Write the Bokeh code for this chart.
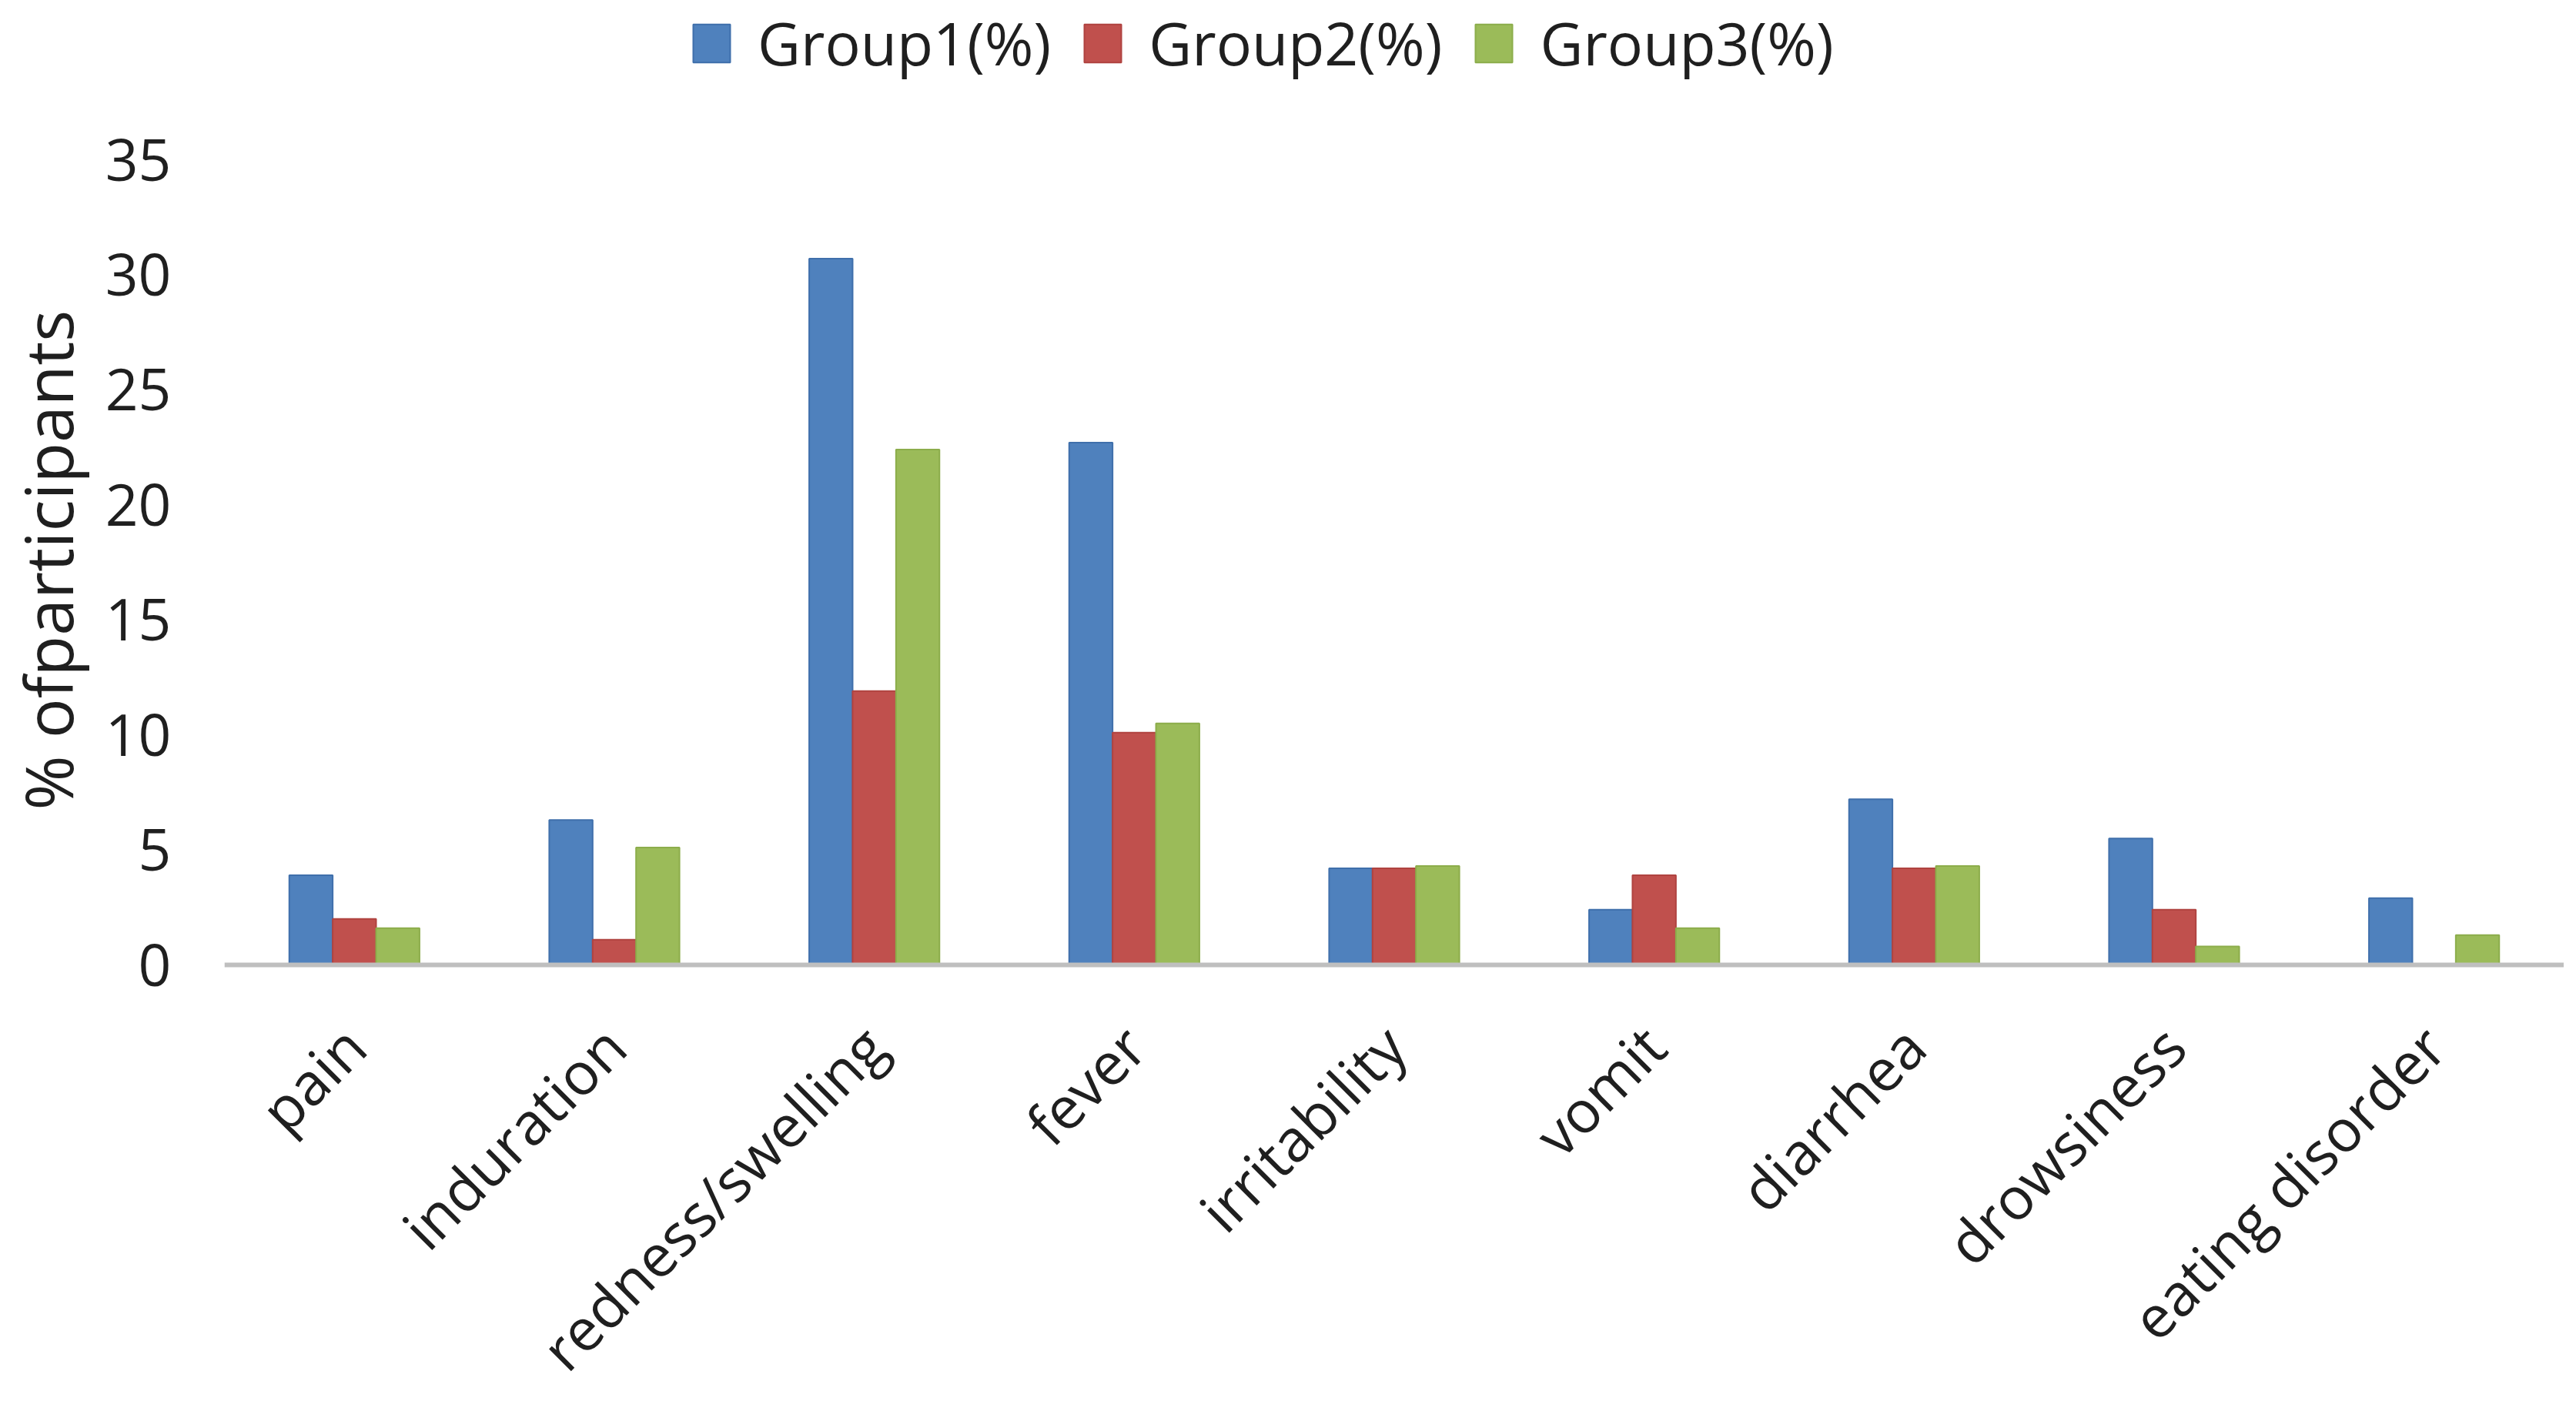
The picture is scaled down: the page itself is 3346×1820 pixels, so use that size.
from bokeh.plotting import figure
from bokeh.models import ColumnDataSource, Legend, LegendItem, FactorRange, Range1d, FixedTicker, Title
from bokeh.transform import dodge
from bokeh.embed import file_html
from bokeh.resources import INLINE
import math

categories = ["pain", "induration", "redness/swelling", "fever", "irritability",
              "vomit", "diarrhea", "drowsiness", "eating disorder"]
group1 = [3.9, 6.3, 30.7, 22.7, 4.2, 2.4, 7.2, 5.5, 2.9]
group2 = [2.0, 1.1, 11.9, 10.1, 4.2, 3.9, 4.2, 2.4, 0.0]
group3 = [1.6, 5.1, 22.4, 10.5, 4.3, 1.6, 4.3, 0.8, 1.3]
series_names = ["Group1(%)", "Group2(%)", "Group3(%)"]
y_ticks = [0, 5, 10, 15, 20, 25, 30, 35]
y_title = "% ofparticipants"

colors = ["#4F81BD", "#C0504D", "#9BBB59"]
edges = ["#3F6FAB", "#B04340", "#8CAD4B"]
FONT = "Open Sans"
TXT = "#1f1f1f"

# layout (pixels): plot height, where y=0 and y=35 sit from the top
H = 1804
Y0_PX = 1253
Y35_PX = 207
ppu = (Y0_PX - Y35_PX) / 35.0
y_lo = -(H - Y0_PX) / ppu
y_hi = 35 + Y35_PX / ppu

source = ColumnDataSource(dict(cat=categories, g1=group1, g2=group2, g3=group3))

p = figure(width=3330, height=H, x_range=FactorRange(*categories),
           y_range=Range1d(y_lo, y_hi), output_backend="svg", toolbar_location=None,
           min_border_left=291, min_border_right=0, min_border_top=0,
           min_border_bottom=0)
p.outline_line_color = None
p.xgrid.visible = False
p.ygrid.visible = False

bw = 0.167
renderers = []
for i, key in enumerate(["g1", "g2", "g3"]):
    r = p.vbar(x=dodge("cat", (i - 1) * bw, range=p.x_range), top=key, bottom=0, width=bw,
               source=source, fill_color=colors[i], line_color=edges[i], line_width=2)
    renderers.append(r)

# y axis
ya = p.yaxis[0]
ya.ticker = FixedTicker(ticks=y_ticks)
ya.axis_line_color = None
ya.major_tick_line_color = None
ya.minor_tick_line_color = None
ya.major_label_text_font = FONT
ya.major_label_text_font_size = "75px"
ya.major_label_text_color = TXT
ya.major_label_standoff = 63
# a blank, tiny axis label only widens the gap between tick labels and the title
ya.axis_label = " "
ya.axis_label_text_font_size = "1px"
ya.axis_label_standoff = 10

ytitle = Title(text=y_title, align="left", offset=H - 1052, standoff=0,
               vertical_align="bottom",
               text_font=FONT, text_font_size="86px", text_font_style="normal",
               text_color=TXT)
p.add_layout(ytitle, "left")

# x axis drawn at y=0
xa = p.xaxis[0]
xa.fixed_location = 0
xa.axis_line_color = "#BFBFBF"
xa.axis_line_width = 6
xa.major_tick_line_color = None
xa.minor_tick_line_color = None
xa.major_label_orientation = math.pi / 4
xa.major_label_text_font = FONT
xa.major_label_text_font_size = "76px"
xa.major_label_text_color = TXT
xa.major_label_standoff = 86

legend = Legend(items=[LegendItem(label=series_names[i], renderers=[renderers[i]]) for i in range(3)],
                orientation="horizontal", location=(603, H - 108), padding=0, margin=0,
                border_line_color=None, background_fill_alpha=0,
                glyph_width=60, glyph_height=62, label_standoff=30, spacing=37,
                label_text_font=FONT, label_text_font_size="77px", label_text_color=TXT)
p.add_layout(legend)

open("out.html", "w").write(file_html(p, INLINE))
